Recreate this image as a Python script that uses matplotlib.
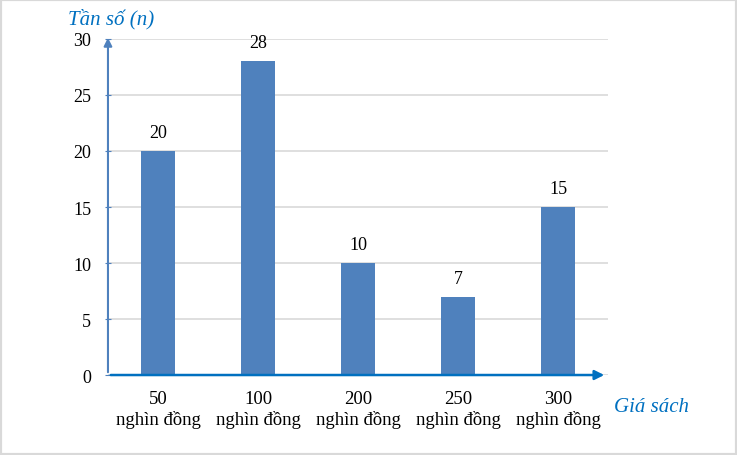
import matplotlib.pyplot as plt
from matplotlib.patches import Rectangle

# dữ liệu
categories = ["50\nnghìn đồng", "100\nnghìn đồng", "200\nnghìn đồng", "250\nnghìn đồng", "300\nnghìn đồng"]
counts = [20, 28, 10, 7, 15]

plt.rcParams['font.family'] = ['Liberation Serif', 'DejaVu Serif']

blue = "#0070C0"
bar_color = "#4F81BD"

fig = plt.figure(figsize=(7.37, 4.56), dpi=100)
ax = fig.add_axes([0.1465, 0.1754, 0.6785, 0.7369])

x = list(range(len(categories)))
bars = ax.bar(x, counts, width=0.34, color=bar_color, zorder=3)
for b, v in zip(bars, counts):
    ax.text(b.get_x() + b.get_width() / 2, v + 0.9, str(v), ha="center", va="bottom", fontsize=13)

ax.set_xlim(-0.5, 4.5)
ax.set_ylim(0, 30)
ax.set_yticks(range(0, 31, 5))
ax.set_xticks(x)
ax.set_xticklabels(categories, fontsize=13.5, linespacing=1.2)
ax.tick_params(axis="x", length=0, pad=11)
ax.tick_params(axis="y", length=4, direction="inout", color="#4F81BD", labelsize=13, pad=10)
ax.yaxis.grid(True, color="#D9D9D9", linewidth=1.2, zorder=0)
for s in ax.spines.values():
    s.set_visible(False)

# mũi tên trục
ax.annotate("", xy=(0, 1.012), xytext=(0, 0), xycoords="axes fraction",
            arrowprops=dict(arrowstyle="-|>", color="#4F81BD", lw=1.5, mutation_scale=12), zorder=4)
ax.annotate("", xy=(0.998, 0), xytext=(0, 0), xycoords="axes fraction",
            arrowprops=dict(arrowstyle="-|>", color="#0070C0", lw=1.8, mutation_scale=14), zorder=4)

fig.text(68 / 737, 1 - 19 / 456, "Tần số (n)", color=blue, style="italic", fontsize=15, va="center", ha="left")
fig.text(614 / 737, 1 - 407 / 456, "Giá sách", color=blue, style="italic", fontsize=15, va="center", ha="left")

fig.patches.append(Rectangle((0, 0), 1, 1, transform=fig.transFigure, fill=False,
                             edgecolor="#D9D9D9", linewidth=3))

fig.savefig("out.png", dpi=100)
